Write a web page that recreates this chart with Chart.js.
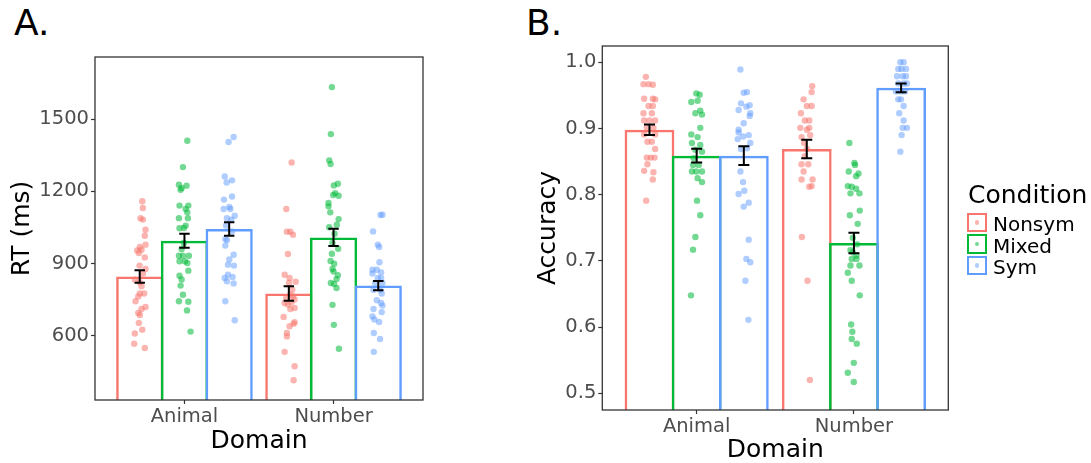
<!DOCTYPE html>
<html>
<head>
<meta charset="utf-8">
<script src="https://cdn.jsdelivr.net/npm/chart.js@4"></script>
<style>
  html, body { margin: 0; padding: 0; background: #fff; }
  body { width: 1091px; height: 463px; position: relative; overflow: hidden; font-family: 'DejaVu Sans', sans-serif; }
  canvas { position: absolute; top: 0; }
  #chartA { left: 0; }
  #chartB { left: 529px; }
  .tag { position: absolute; top: 5px; font-size: 36px; line-height: 36px; color: #000; }
  .legend-title { position: absolute; left: 968px; top: 182px; font-size: 25px; line-height: 25px; color: #000; }
  .legend-key { position: absolute; left: 967px; width: 15.5px; height: 15.5px; border: 2px solid; background: #fff; }
  .legend-key i { position: absolute; left: 5.5px; top: 5.5px; width: 4.5px; height: 4.5px; border-radius: 50%; }
  .legend-label { position: absolute; left: 993px; font-size: 20px; line-height: 21px; color: #000; }
</style>
</head>
<body>
<div class="tag" style="left:14px">A.</div>
<div class="tag" style="left:526px">B.</div>
<canvas id="chartA" width="460" height="463"></canvas>
<canvas id="chartB" width="440" height="463"></canvas>
<div id="legend"></div>

<script>
const domains = ['Animal', 'Number'];
const conditions = ['Nonsym', 'Mixed', 'Sym'];
const colors = ['#F8766D', '#00BA38', '#619CFF'];
const dotColors = ['rgba(248,118,109,0.55)', 'rgba(0,186,56,0.55)', 'rgba(97,156,255,0.5)'];

// panel A: reaction time
const rtTicks = [600, 900, 1200, 1500];
const rtMeanNonsym = [847, 776];
const rtMeanMixed = [995, 1009];
const rtMeanSym = [1044, 809];
const rtErrNonsym = [26, 30];
const rtErrMixed = [29, 36];
const rtErrSym = [28, 19];

// panel B: accuracy
const accTicks = [0.5, 0.6, 0.7, 0.8, 0.9, 1.0];
const accMeanNonsym = [0.898, 0.869];
const accMeanMixed = [0.859, 0.727];
const accMeanSym = [0.859, 0.9615];
const accErrNonsym = [0.008, 0.014];
const accErrMixed = [0.0105, 0.0155];
const accErrSym = [0.014, 0.0066];

// individual participants: [jitter, value]
const rtAnimalNonsym = [[.017,1159],[.021,1131],[.005,1089],[.021,1083],[.039,1041],[.034,1016],[.039,979],[.001,969],[-.017,955],[.012,958],[-.006,944],[.034,926],[-.001,892],[.039,878],[.021,859],[-.033,834],[-.001,823],[.012,806],[.001,776],[.030,776],[-.010,764],[-.028,744],[.039,720],[.012,712],[-.010,695],[.001,687],[-.006,654],[.017,626],[-.033,610],[-.037,568],[.034,550]];
const rtAnimalMixed = [[.019,1410],[-.010,1301],[-.037,1228],[-.019,1214],[-.026,1207],[.014,1224],[-.033,1141],[.026,1141],[.008,1127],[.019,1113],[-.037,1089],[.023,1089],[.008,1058],[-.033,1047],[-.004,1048],[-.004,986],[-.019,961],[-.037,933],[-.010,933],[.030,933],[-.033,910],[.003,910],[.019,903],[.026,871],[-.033,850],[-.019,834],[-.026,809],[-.010,771],[-.037,744],[.026,742],[.017,706],[.041,618]];
const rtAnimalSym = [[.030,1426],[-.004,1405],[-.030,1262],[.019,1246],[-.017,1237],[.019,1179],[-.035,1166],[.001,1135],[-.037,1127],[.008,1127],[.037,1099],[-.015,1089],[.014,1083],[-.021,1058],[.019,1034],[-.026,1002],[-.015,997],[-.026,975],[.030,937],[.001,917],[-.008,896],[.032,892],[-.008,854],[-.030,841],[.023,845],[-.015,827],[.030,818],[-.026,744],[.037,665]];
const rtNumberNonsym = [[.019,1320],[-.017,1127],[-.013,1033],[.010,1033],[.028,1020],[-.006,940],[-.028,854],[.005,841],[.046,825],[.001,820],[.023,792],[.010,771],[-.017,758],[.028,764],[.039,751],[-.028,737],[.017,740],[-.006,730],[.039,716],[.010,712],[-.035,679],[.005,640],[.039,657],[.032,651],[-.013,612],[-.013,598],[-.028,534],[.039,474],[.032,416]];
const rtNumberMixed = [[-.011,1633],[-.018,1438],[-.029,1329],[-.020,1314],[.002,1225],[.029,1232],[.011,1193],[-.002,1185],[.034,1182],[-.034,1152],[-.034,1138],[-.022,1113],[.034,1085],[.022,1062],[-.029,1051],[.007,1024],[-.007,986],[.031,962],[-.011,941],[-.020,911],[.004,900],[-.007,878],[0,868],[.029,852],[.020,836],[-.018,820],[.004,816],[.020,799],[-.007,729],[.002,646],[.036,547]];
const rtNumberSym = [[.028,1103],[.015,1102],[-.035,1034],[-.003,979],[.006,969],[.008,906],[-.039,875],[-.010,875],[.019,864],[-.039,859],[-.003,841],[.019,841],[-.021,820],[.028,820],[-.032,792],[.012,792],[.023,776],[-.010,748],[.019,737],[.028,726],[-.032,712],[.023,699],[-.039,681],[-.026,668],[.006,658],[-.030,612],[.012,587],[-.030,534]];

const accAnimalNonsym = [[-.023,.978],[-.038,.967],[-.006,.967],[.021,.966],[-.034,.945],[.021,.945],[.036,.944],[-.006,.934],[.021,.934],[-.038,.923],[.015,.923],[-.034,.912],[0,.912],[.036,.912],[-.017,.902],[.025,.901],[-.034,.891],[.036,.891],[-.013,.880],[.015,.880],[.036,.869],[-.017,.856],[.008,.856],[.032,.856],[-.013,.846],[-.034,.836],[.025,.834],[.021,.823],[-.021,.791]];
const accAnimalMixed = [[-.002,.953],[.019,.951],[-.034,.940],[.006,.942],[.023,.927],[-.008,.923],[.034,.921],[.023,.901],[-.034,.891],[.006,.887],[-.030,.878],[.023,.875],[-.008,.868],[.034,.865],[-.019,.855],[-.023,.845],[.013,.845],[-.002,.835],[.034,.835],[-.030,.835],[.006,.825],[.034,.819],[.002,.791],[.023,.769],[-.008,.736],[-.023,.717],[-.036,.648]];
const accAnimalSym = [[-.022,.989],[-.001,.954],[.020,.955],[-.018,.938],[.016,.933],[.037,.935],[-.033,.928],[.041,.923],[.037,.919],[-.001,.908],[-.033,.898],[-.033,.894],[-.005,.888],[.031,.890],[-.039,.884],[.041,.878],[-.018,.869],[.020,.870],[-.022,.835],[-.005,.819],[-.033,.801],[.003,.806],[.031,.788],[-.001,.782],[.031,.732],[.016,.703],[.041,.698],[.010,.670],[.029,.611]];
const accNumberNonsym = [[.035,.964],[.031,.955],[-.020,.944],[.001,.934],[.031,.934],[-.037,.923],[-.012,.912],[.016,.912],[-.041,.901],[.016,.901],[.001,.898],[-.033,.887],[.022,.890],[-.016,.878],[.001,.869],[-.012,.858],[-.033,.846],[.010,.846],[-.020,.835],[-.033,.823],[.037,.823],[.016,.812],[.031,.813],[-.031,.736],[.005,.670],[.020,.520]];
const accNumberMixed = [[-.029,.878],[.003,.848],[.007,.845],[-.033,.835],[.029,.832],[.014,.828],[-.039,.813],[-.014,.812],[.014,.809],[-.022,.802],[.035,.802],[.037,.776],[-.026,.769],[.024,.756],[-.007,.735],[.020,.725],[-.022,.716],[-.007,.713],[.016,.708],[-.014,.703],[.016,.703],[.035,.693],[-.022,.693],[-.039,.682],[-.014,.670],[.037,.648],[-.018,.604],[-.010,.593],[-.014,.582],[.018,.575],[-.001,.546],[-.039,.531],[-.001,.517]];
const accNumberSym = [[-.005,1.0],[.016,1.0],[-.018,.990],[.003,.990],[.031,.990],[-.026,.979],[.010,.979],[.031,.979],[-.018,.968],[.016,.968],[.037,.968],[-.033,.956],[-.001,.956],[.024,.956],[-.018,.944],[-.001,.944],[.016,.934],[-.012,.923],[.016,.912],[.010,.901],[.037,.901],[.003,.890],[-.005,.865]];

const FONT = "'DejaVu Sans', sans-serif";
const dodge = [-0.3, 0, 0.3];
const capWidth = 0.07;

// error bars + panel frame
const errorBars = {
    id: 'errorBars',
    afterDatasetsDraw(chart) {
        const ctx = chart.ctx;
        const xs = chart.scales.x, ys = chart.scales.y;
        const half = xs.getPixelForValue(1 + capWidth / 2) - xs.getPixelForValue(1);
        ctx.save();
        ctx.strokeStyle = '#000';
        ctx.lineWidth = 2;
        chart.data.datasets.forEach((ds, i) => {
            if (!ds.errors) return;
            chart.getDatasetMeta(i).data.forEach((bar, j) => {
                const m = ds.data[j].y, e = ds.errors[j];
                const x = bar.x;
                const yHi = ys.getPixelForValue(m + e), yLo = ys.getPixelForValue(m - e);
                ctx.beginPath();
                ctx.moveTo(x, yHi); ctx.lineTo(x, yLo);
                ctx.moveTo(x - half, yHi); ctx.lineTo(x + half, yHi);
                ctx.moveTo(x - half, yLo); ctx.lineTo(x + half, yLo);
                ctx.stroke();
            });
        });
        const a = chart.chartArea;
        ctx.strokeStyle = '#333';
        ctx.lineWidth = 1.3;
        ctx.strokeRect(a.left, a.top, a.right - a.left, a.bottom - a.top);
        ctx.restore();
    }
};

function makePanel(id, p) {
    const datasets = [];
    conditions.forEach((c, k) => {
        datasets.push({
            type: 'bar',
            label: c,
            order: 5 - k,
            data: domains.map((d, j) => ({ x: j + 1 + dodge[k], y: p.means[k][j] })),
            errors: p.errs[k],
            borderColor: colors[k],
            backgroundColor: 'rgba(255,255,255,0)',
            borderWidth: 2.5,
            borderSkipped: false,
            grouped: false,
            categoryPercentage: 1,
            barPercentage: 1.055,
            clip: 0
        });
    });
    conditions.forEach((c, k) => {
        domains.forEach((d, j) => {
            datasets.push({
                type: 'scatter',
                order: 1,
                data: p.dots[k][j].map(v => ({ x: j + 1 + dodge[k] + v[0], y: v[1] })),
                backgroundColor: dotColors[k],
                pointRadius: 3.2,
                pointBorderWidth: 0,
                pointHoverRadius: 3.2
            });
        });
    });

    const tickFont = { family: FONT, size: 19.5 };
    const titleFont = { family: FONT, size: 25, lineHeight: 1 };
    const grid = { drawOnChartArea: false, offset: false, tickLength: 4, tickColor: '#333', tickWidth: 1.2 };

    return new Chart(document.getElementById(id), {
        type: 'bar',
        data: { datasets },
        plugins: [errorBars],
        options: {
            responsive: false,
            animation: false,
            events: [],
            layout: { padding: p.padding },
            plugins: { legend: { display: false }, tooltip: { enabled: false } },
            scales: {
                x: {
                    type: 'linear',
                    min: 0.4,
                    max: 2.6,
                    offset: false,
                    afterBuildTicks: s => { s.ticks = domains.map((d, j) => ({ value: j + 1 })); },
                    afterFit: s => { s.height = p.xHeight; },
                    ticks: { callback: v => domains[v - 1], color: '#4d4d4d', font: tickFont, padding: 1, autoSkip: false, maxRotation: 0 },
                    grid: grid,
                    border: { display: false },
                    title: { display: true, text: 'Domain', color: '#000', font: titleFont, padding: { top: 0, bottom: p.xTitlePad } }
                },
                y: {
                    type: 'linear',
                    min: p.min,
                    max: p.max,
                    afterBuildTicks: s => { s.ticks = p.ticks.map(v => ({ value: v })); },
                    afterFit: s => { s.width = p.yWidth; },
                    ticks: { callback: p.fmt, color: '#4d4d4d', font: tickFont, padding: 2 },
                    grid: grid,
                    border: { display: false },
                    title: { display: true, text: p.yTitle, color: '#000', font: titleFont, padding: { top: p.yTitlePad, bottom: 0 } }
                }
            }
        }
    });
}

makePanel('chartA', {
    means: [rtMeanNonsym, rtMeanMixed, rtMeanSym],
    errs: [rtErrNonsym, rtErrMixed, rtErrSym],
    dots: [[rtAnimalNonsym, rtNumberNonsym], [rtAnimalMixed, rtNumberMixed], [rtAnimalSym, rtNumberSym]],
    ticks: rtTicks,
    min: 334, max: 1758,
    fmt: v => String(v),
    yTitle: 'RT (ms)',
    padding: { left: 0, top: 57, right: 37, bottom: 0 },
    yWidth: 95, xHeight: 63, xTitlePad: 9.5, yTitlePad: 9.5
});

makePanel('chartB', {
    means: [accMeanNonsym, accMeanMixed, accMeanSym],
    errs: [accErrNonsym, accErrMixed, accErrSym],
    dots: [[accAnimalNonsym, accNumberNonsym], [accAnimalMixed, accNumberMixed], [accAnimalSym, accNumberSym]],
    ticks: accTicks,
    min: 0.4748, max: 1.0246,
    fmt: v => v.toFixed(1),
    yTitle: 'Accuracy',
    padding: { left: 0, top: 46, right: 20.7, bottom: 0 },
    yWidth: 73.3, xHeight: 53, xTitlePad: 0, yTitlePad: 6.5
});

// legend for the fill/colour scale
const legend = document.getElementById('legend');
legend.innerHTML = '<div class="legend-title">Condition</div>' + conditions.map((c, k) =>
    `<div class="legend-key" style="top:${212.5 + k * 21.5}px;border-color:${colors[k]}"><i style="background:${dotColors[k]}"></i></div>` +
    `<div class="legend-label" style="top:${214 + k * 21.5}px">${c}</div>`
).join('');
</script>
</body>
</html>
